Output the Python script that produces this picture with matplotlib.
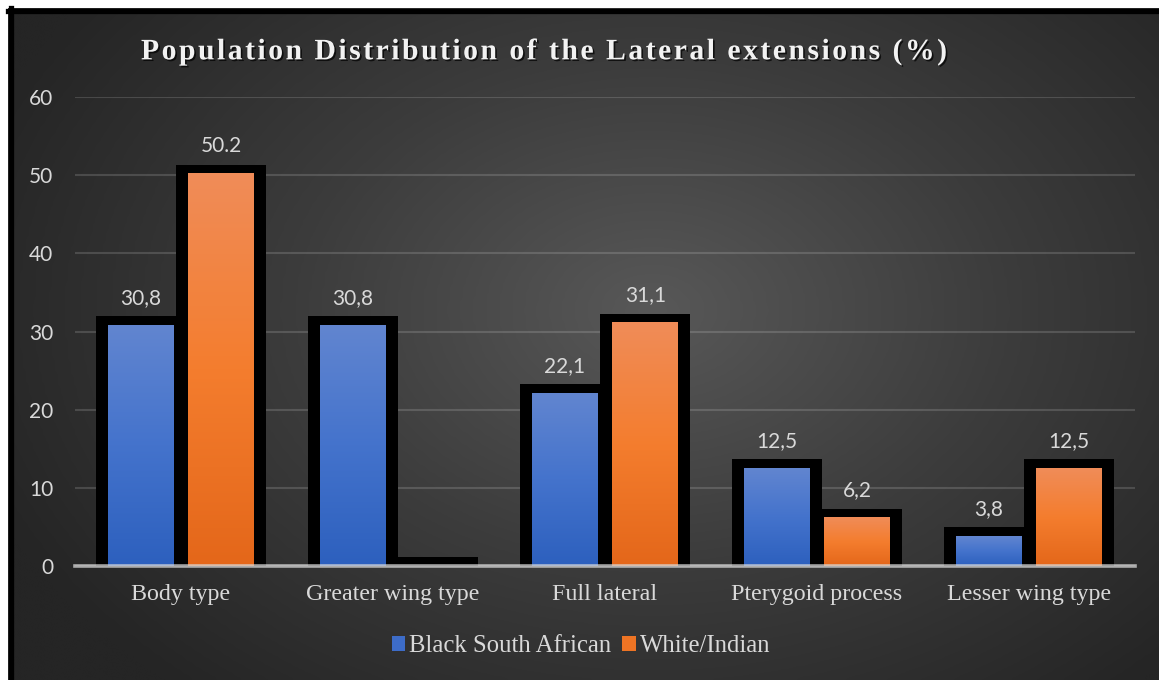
import matplotlib
matplotlib.use("Agg")
import matplotlib.pyplot as plt
import matplotlib.patheffects as pe
from matplotlib.patches import Patch
from matplotlib.colors import LinearSegmentedColormap
import numpy as np

categories = ["Body type", "Greater wing type", "Full lateral", "Pterygoid process", "Lesser wing type"]
black_sa = [30.8, 30.8, 22.1, 12.5, 3.8]
white_indian = [50.2, 0.0, 31.1, 6.2, 12.5]
black_labels = ["30,8", "30,8", "22,1", "12,5", "3,8"]
white_labels = ["50.2", "", "31,1", "6,2", "12,5"]
series_names = ["Black South African", "White/Indian"]
yticks = [0, 10, 20, 30, 40, 50, 60]

W, H = 1159, 680
fig = plt.figure(figsize=(W / 100, H / 100), dpi=100, facecolor="white")

# fond degrade radial
bg = fig.add_axes([8 / W, 0, 1 - 8 / W, 1 - 8 / H], zorder=-10)
gx, gy = np.meshgrid(np.linspace(0, 1, 400), np.linspace(0, 1, 240))
r = np.sqrt(((gx - 0.56) / 0.62) ** 2 + ((gy - 0.45) / 0.75) ** 2)
r = np.clip(r, 0, 1)
bg_cmap = LinearSegmentedColormap.from_list("bg", ["#585858", "#3c3c3c", "#252525"])
bg.imshow(r, cmap=bg_cmap, aspect="auto", extent=(0, 1, 0, 1), origin="upper",
          interpolation="bicubic", vmin=0, vmax=1)
bg.set_axis_off()

# bordure noire (haut et gauche)
fig.add_artist(plt.Line2D([10.5 / W, 10.5 / W], [0, 1 - 8 / H], color="black", lw=3.8,
                          transform=fig.transFigure))
fig.add_artist(plt.Line2D([8 / W, 1], [1 - 10.5 / H, 1 - 10.5 / H], color="black", lw=3.8,
                          transform=fig.transFigure))

ax = fig.add_axes([75 / W, 114 / H, (1135 - 75) / W, (583 - 114) / H])
ax.set_facecolor("none")

blue_cmap = LinearSegmentedColormap.from_list("b", ["#2d60be", "#4473cc", "#6185d0"])
orange_cmap = LinearSegmentedColormap.from_list("o", ["#e4671a", "#f47d2e", "#f08c58"])

x = np.arange(len(categories))
width = 0.311      # largeur du remplissage
offset = 0.19
edge_x = 0.0565    # epaisseur du cadre noir sur les cotes
edge_y = 1.15      # epaisseur du cadre noir en haut
grad = np.linspace(1, 0, 100).reshape(-1, 1)

for vals, cmap, off, labels in [(black_sa, blue_cmap, -offset, black_labels),
                                (white_indian, orange_cmap, offset, white_labels)]:
    for xi, v, lab in zip(x, vals, labels):
        c = xi + off
        ax.bar(c, v + edge_y, width=width + 2 * edge_x, color="black", zorder=2)
        if v > 0:
            ax.imshow(grad, cmap=cmap, aspect="auto", extent=(c - width / 2, c + width / 2, 0, v),
                      interpolation="bicubic", vmin=0, vmax=1, zorder=2.5)
        if lab:
            ax.annotate(lab, (c, v + edge_y), xytext=(0, 6), textcoords="offset points",
                        ha="center", va="bottom", color="#d9d9d9", fontsize=15,
                        family=["Lato", "DejaVu Sans"], zorder=5)

ax.set_xlim(-0.5, len(categories) - 0.5)
ax.set_ylim(0, 60)
ax.set_yticks(yticks)
ax.set_xticks(x)
ax.set_xticklabels(categories, family=["Liberation Serif", "DejaVu Serif"], fontsize=17.3,
                   color="#d9d9d9")
for t in ax.get_yticklabels():
    t.set_family(["Lato", "DejaVu Sans"])
    t.set_fontsize(15)
    t.set_color("#d9d9d9")
ax.tick_params(axis="both", length=0)
ax.tick_params(axis="x", pad=13)
ax.tick_params(axis="y", pad=15.5)
ax.grid(axis="y", color="white", alpha=0.15, lw=1.5, zorder=0)
ax.set_axisbelow(True)
for s in ax.spines.values():
    s.set_visible(False)
ax.axhline(0, color="#d9d9d9", alpha=0.75, lw=2.6, zorder=4, clip_on=False)

title = "Population Distribution of the Lateral extensions (%)"
fig.text(545 / W, 1 - 52 / H, "\u200a".join(title), ha="center", va="center",
         family=["Liberation Serif", "DejaVu Serif"], fontweight="bold", fontsize=21.4,
         color="#f2f2f2",
         path_effects=[pe.SimplePatchShadow(offset=(1.2, -1.2), shadow_rgbFace="black", alpha=0.7),
                       pe.Normal()])

handles = [Patch(facecolor="#3d6cc8"), Patch(facecolor="#ee7424")]
leg = fig.legend(handles, series_names, loc="center", bbox_to_anchor=(581 / W, 1 - 646 / H),
                 ncol=2, frameon=False, handlelength=0.55, handleheight=0.55, handletextpad=0.15,
                 columnspacing=0.45, fontsize=17.8)
for t in leg.get_texts():
    t.set_fontfamily(["Liberation Serif", "DejaVu Serif"])
    t.set_color("#d9d9d9")

fig.savefig("out.png", dpi=100, facecolor="white")
